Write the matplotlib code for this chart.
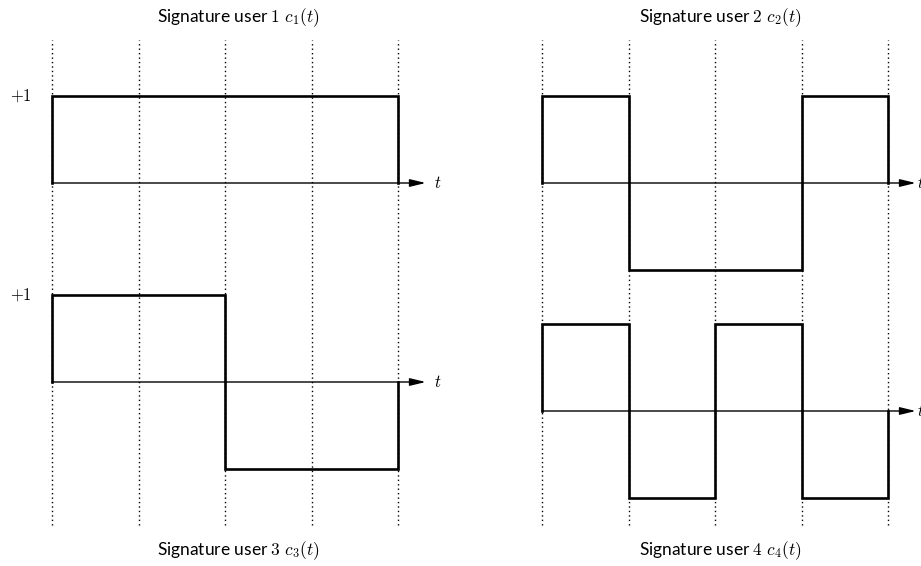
import matplotlib
matplotlib.use('Agg')
import matplotlib.pyplot as plt

plt.rcParams['mathtext.fontset'] = 'cm'
plt.rcParams['font.family'] = ['Lato', 'DejaVu Sans']

# ---- data ----
users = [1, 2, 3, 4]
chip_edges = [0, 1, 2, 3, 4]
c1 = [1, 1, 1, 1]
c2 = [1, -1, -1, 1]
c3 = [1, 1, -1, -1]
c4 = [1, -1, 1, -1]
signatures = [c1, c2, c3, c4]

W, H = 921, 566
fig = plt.figure(figsize=(W / 100, H / 100), dpi=100)


def px_axes(x0, x1, ytop, ybot):
    ax = fig.add_axes([x0 / W, 1 - ybot / H, (x1 - x0) / W, (ybot - ytop) / H])
    ax.set_axis_off()
    return ax


columns = {'L': (52, 398), 'R': (542, 888)}

# dotted chip boundaries spanning each column
for key, (x0, x1) in columns.items():
    axc = px_axes(x0, x1, 40, 525)
    axc.set_xlim(chip_edges[0], chip_edges[-1])
    axc.set_ylim(0, 1)
    for e in chip_edges:
        axc.axvline(e, color='black', lw=1.0, ls=(0, (1, 2.2)), clip_on=False)

# panel layout: column, baseline pixel, show +1, t label offset
panels = [
    ('L', 183, True, 4.42),
    ('R', 183, False, 4.33),
    ('L', 382, True, 4.42),
    ('R', 411, False, 4.33),
]
amp_px = 87

for sig, (col, base, show_one, t_off) in zip(signatures, panels):
    x0, x1 = columns[col]
    ax = px_axes(x0, x1, base - amp_px, base + amp_px)
    ax.set_xlim(chip_edges[0], chip_edges[-1])
    ax.set_ylim(-1, 1)
    ax.annotate('', xy=(4.32, 0), xytext=(0, 0),
                arrowprops=dict(arrowstyle='-|>,head_length=0.95,head_width=0.23',
                                mutation_scale=10, lw=1.0, color='black',
                                shrinkA=0, shrinkB=0),
                annotation_clip=False)
    st = ax.stairs(sig, chip_edges, baseline=0, color='black', lw=1.9,
                   clip_on=False)
    st.set_joinstyle('miter')
    st.set_capstyle('projecting')
    ax.text(t_off, 0, r'$t$', fontsize=12, ha='left', va='center', clip_on=False)
    if show_one:
        ax.text(-0.485, 1, r'$+1$', fontsize=12, ha='left', va='center',
                clip_on=False)

# titles
title_pos = [(238, 18), (720, 18), (238, 551), (720, 551)]
for u, (tx, ty) in zip(users, title_pos):
    fig.text(tx / W, 1 - ty / H, r'Signature user $%d\ c_%d(t)$' % (u, u),
             fontsize=12.5, ha='center', va='center')

fig.savefig('out.png', dpi=100)
